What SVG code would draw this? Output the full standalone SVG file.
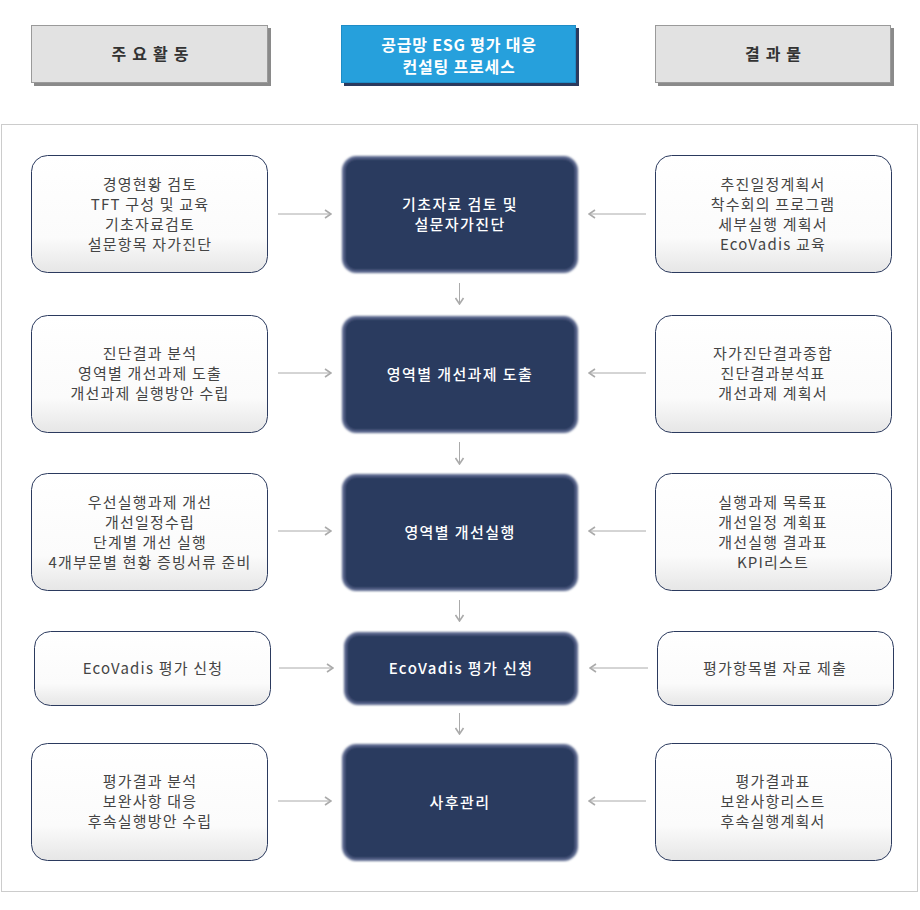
<svg xmlns="http://www.w3.org/2000/svg" width="920" height="910" viewBox="0 0 920 910">
<defs>
<linearGradient id="lg" x1="0" y1="0" x2="0" y2="1">
<stop offset="0" stop-color="#ffffff"/>
<stop offset="0.7" stop-color="#fbfbfb"/>
<stop offset="1" stop-color="#e6e6e6"/>
</linearGradient>
<filter id="soft" x="-5%" y="-5%" width="110%" height="110%">
<feGaussianBlur stdDeviation="0.9"/>
</filter>
<marker id="ah" viewBox="0 0 10 10" refX="9" refY="5" markerWidth="10" markerHeight="10" markerUnits="userSpaceOnUse" orient="auto">
<path d="M3,1 L9,5 L3,9" fill="none" stroke="#aaaaaa" stroke-width="1.6"/>
</marker>
</defs>
<style>
.t{font-family:"Noto Sans CJK KR","Noto Sans",sans-serif;font-size:15px;text-anchor:middle;letter-spacing:1.2px}
.side{fill:url(#lg);stroke:#2b3a5e;stroke-width:1}
.sideT{fill:#444444}
.core{fill:#2b3a5e;stroke:#56648a;stroke-width:3;filter:url(#soft)}
.coreT{fill:#ffffff;font-weight:500;letter-spacing:1.4px}
.hdr{fill:#e2e2e2;stroke:#9a9a9a;stroke-width:1}
.hdrT{fill:#333333;font-weight:700;font-size:16px;letter-spacing:6px}
.blueT{fill:#ffffff;font-weight:700;font-size:16px;letter-spacing:0.8px}
.conn{stroke:#aaaaaa;stroke-width:1;fill:none;marker-end:url(#ah)}
</style>
<rect width="920" height="910" fill="#ffffff"/>

<g id="header-activity">
<rect x="34" y="28" width="237" height="58" fill="#8a8a8a"/>
<rect class="hdr" x="31.5" y="25.5" width="236" height="57"/>
<text class="t hdrT" x="153" y="60">주요활동</text>
</g>
<g id="header-process">
<rect x="344" y="28" width="235" height="58" fill="#2b3a5e"/>
<rect x="341.5" y="25.5" width="234" height="57" fill="#26a0dc" stroke="#1e8cc6" stroke-width="1"/>
<text class="t blueT" x="459" y="51">공급망 ESG 평가 대응</text>
<text class="t blueT" x="459" y="73">컨설팅 프로세스</text>
</g>
<g id="header-output">
<rect x="658" y="28" width="236" height="58" fill="#8a8a8a"/>
<rect class="hdr" x="655.5" y="25.5" width="235" height="57"/>
<text class="t hdrT" x="776" y="60">결과물</text>
</g>

<rect id="container" x="1.5" y="124.5" width="916" height="767" fill="none" stroke="#cccccc" stroke-width="1"/>

<g id="connectors">
<line class="conn" x1="278" y1="214" x2="331" y2="214"/>
<line class="conn" x1="646" y1="214" x2="589" y2="214"/>
<line class="conn" x1="459.5" y1="283" x2="459.5" y2="304"/>
<line class="conn" x1="278" y1="373" x2="331" y2="373"/>
<line class="conn" x1="646" y1="373" x2="589" y2="373"/>
<line class="conn" x1="459.5" y1="442" x2="459.5" y2="464"/>
<line class="conn" x1="278" y1="531" x2="331" y2="531"/>
<line class="conn" x1="646" y1="531" x2="589" y2="531"/>
<line class="conn" x1="459.5" y1="600" x2="459.5" y2="621"/>
<line class="conn" x1="279" y1="668" x2="333" y2="668"/>
<line class="conn" x1="648" y1="668" x2="590" y2="668"/>
<line class="conn" x1="459.5" y1="713" x2="459.5" y2="734"/>
<line class="conn" x1="278" y1="801" x2="331" y2="801"/>
<line class="conn" x1="646" y1="801" x2="589" y2="801"/>
</g>

<!-- Row 1 -->
<g id="act1">
<rect class="side" x="31.5" y="155.5" width="236" height="117" rx="16"/>
<text class="t sideT" x="150" y="189.5">경영현황 검토</text>
<text class="t sideT" x="150" y="209.5">TFT 구성 및 교육</text>
<text class="t sideT" x="150" y="229.5">기초자료검토</text>
<text class="t sideT" x="150" y="249.5">설문항목 자가진단</text>
</g>
<g id="step1">
<rect class="core" x="343.5" y="157.5" width="233" height="114" rx="13"/>
<text class="t coreT" x="460" y="209.5">기초자료 검토 및</text>
<text class="t coreT" x="460" y="229.5">설문자가진단</text>
</g>
<g id="out1">
<rect class="side" x="655.5" y="155.5" width="236" height="117" rx="16"/>
<text class="t sideT" x="773" y="189.5">추진일정계획서</text>
<text class="t sideT" x="773" y="209.5">착수회의 프로그램</text>
<text class="t sideT" x="773" y="229.5">세부실행 계획서</text>
<text class="t sideT" x="773" y="249.5">EcoVadis 교육</text>
</g>

<!-- Row 2 -->
<g id="act2">
<rect class="side" x="31.5" y="315.5" width="236" height="117" rx="16"/>
<text class="t sideT" x="150" y="358.5">진단결과 분석</text>
<text class="t sideT" x="150" y="378.5">영역별 개선과제 도출</text>
<text class="t sideT" x="150" y="398.5">개선과제 실행방안 수립</text>
</g>
<g id="step2">
<rect class="core" x="343.5" y="317.5" width="233" height="114" rx="13"/>
<text class="t coreT" x="460" y="379.5">영역별 개선과제 도출</text>
</g>
<g id="out2">
<rect class="side" x="655.5" y="315.5" width="236" height="117" rx="16"/>
<text class="t sideT" x="773" y="358.5">자가진단결과종합</text>
<text class="t sideT" x="773" y="378.5">진단결과분석표</text>
<text class="t sideT" x="773" y="398.5">개선과제 계획서</text>
</g>

<!-- Row 3 -->
<g id="act3">
<rect class="side" x="31.5" y="473.5" width="236" height="117" rx="16"/>
<text class="t sideT" x="150" y="507.5">우선실행과제 개선</text>
<text class="t sideT" x="150" y="527.5">개선일정수립</text>
<text class="t sideT" x="150" y="547.5">단계별 개선 실행</text>
<text class="t sideT" x="150" y="567.5">4개부문별 현황 증빙서류 준비</text>
</g>
<g id="step3">
<rect class="core" x="343.5" y="475.5" width="233" height="114" rx="13"/>
<text class="t coreT" x="460" y="537.5">영역별 개선실행</text>
</g>
<g id="out3">
<rect class="side" x="655.5" y="473.5" width="236" height="117" rx="16"/>
<text class="t sideT" x="773" y="507.5">실행과제 목록표</text>
<text class="t sideT" x="773" y="527.5">개선일정 계획표</text>
<text class="t sideT" x="773" y="547.5">개선실행 결과표</text>
<text class="t sideT" x="773" y="567.5">KPI리스트</text>
</g>

<!-- Row 4 -->
<g id="act4">
<rect class="side" x="34.5" y="631.5" width="236" height="74" rx="16"/>
<text class="t sideT" x="153" y="673.5">EcoVadis 평가 신청</text>
</g>
<g id="step4">
<rect class="core" x="345.5" y="633.5" width="231" height="70" rx="13"/>
<text class="t coreT" x="461" y="673.5">EcoVadis 평가 신청</text>
</g>
<g id="out4">
<rect class="side" x="657.5" y="631.5" width="236" height="74" rx="16"/>
<text class="t sideT" x="775" y="673.5">평가항목별 자료 제출</text>
</g>

<!-- Row 5 -->
<g id="act5">
<rect class="side" x="31.5" y="743.5" width="236" height="117" rx="16"/>
<text class="t sideT" x="150" y="786.5">평가결과 분석</text>
<text class="t sideT" x="150" y="806.5">보완사항 대응</text>
<text class="t sideT" x="150" y="826.5">후속실행방안 수립</text>
</g>
<g id="step5">
<rect class="core" x="343.5" y="745.5" width="233" height="114" rx="13"/>
<text class="t coreT" x="460" y="807.5">사후관리</text>
</g>
<g id="out5">
<rect class="side" x="655.5" y="743.5" width="236" height="117" rx="16"/>
<text class="t sideT" x="773" y="786.5">평가결과표</text>
<text class="t sideT" x="773" y="806.5">보완사항리스트</text>
<text class="t sideT" x="773" y="826.5">후속실행계획서</text>
</g>
</svg>
